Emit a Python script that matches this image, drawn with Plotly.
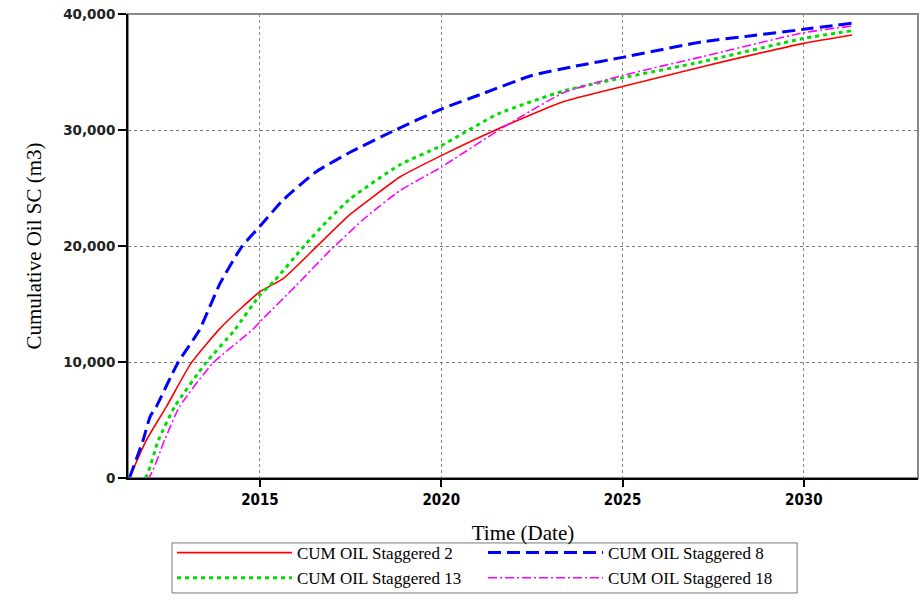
import plotly.graph_objects as go

# Decimal years and cumulative oil (m3)
s2_t = [2011.40, 2011.87, 2012.42, 2013.10, 2013.90, 2014.50, 2015.00, 2015.65, 2016.56, 2017.50,
        2018.10, 2018.86, 2020.00, 2021.56, 2023.40, 2025.00, 2027.20, 2030.00, 2031.33]
s2_v = [0, 3280, 6150, 9900, 12900, 14700, 16060, 17210, 19940, 22760,
        24200, 25950, 27790, 30090, 32470, 33750, 35460, 37470, 38190]

s8_t = [2011.40, 2011.78, 2011.97, 2012.14, 2012.73, 2013.33, 2013.90, 2014.50, 2015.00, 2015.65,
        2016.55, 2017.50, 2018.70, 2020.00, 2021.20, 2022.48, 2023.70, 2025.00, 2027.20, 2028.50,
        2030.00, 2031.33]
s8_v = [0, 3300, 5300, 6150, 9900, 12760, 16780, 19940, 21700, 24000,
        26400, 28100, 29950, 31800, 33200, 34680, 35500, 36260, 37600, 38100,
        38680, 39200]

s13_t = [2011.40, 2011.83, 2012.20, 2012.65, 2013.50, 2014.30, 2015.00, 2015.40, 2016.20, 2016.90,
         2017.50, 2018.86, 2020.00, 2021.56, 2023.40, 2025.00, 2027.20, 2030.00, 2031.33]
s13_v = [0, 0, 3280, 6150, 9900, 12760, 15780, 17000, 19940, 22300,
         24100, 27000, 28650, 31380, 33390, 34500, 35890, 37900, 38560]

s18_t = [2011.40, 2011.92, 2012.37, 2012.78, 2013.70, 2014.80, 2015.00, 2016.00, 2016.93, 2017.93,
         2018.86, 2020.00, 2021.56, 2022.48, 2023.40, 2025.00, 2027.20, 2030.00, 2031.33]
s18_v = [0, 0, 3280, 6150, 9900, 12800, 13470, 16600, 19600, 22500,
         24770, 26800, 29940, 31670, 33250, 34700, 36320, 38390, 38960]

names = ["CUM OIL Staggered 2", "CUM OIL Staggered 8", "CUM OIL Staggered 13", "CUM OIL Staggered 18"]
x_ticks = [2015, 2020, 2025, 2030]
y_ticks = [0, 10000, 20000, 30000, 40000]

fig = go.Figure()
fig.add_trace(go.Scatter(x=s2_t, y=s2_v, mode="lines", name=names[0],
                         line=dict(color="#ff0000", width=1.6, dash="solid", shape="spline", smoothing=0.5)))
fig.add_trace(go.Scatter(x=s8_t, y=s8_v, mode="lines", name=names[1],
                         line=dict(color="#0000ff", width=3, dash="13px,6px", shape="spline", smoothing=0.5)))
fig.add_trace(go.Scatter(x=s13_t, y=s13_v, mode="lines", name=names[2],
                         line=dict(color="#00dd00", width=3, dash="4px,4px", shape="spline", smoothing=0.5)))
fig.add_trace(go.Scatter(x=s18_t, y=s18_v, mode="lines", name=names[3],
                         line=dict(color="#ff00ff", width=1.6, dash="9px,3px,2px,3px", shape="spline", smoothing=0.5)))

serif = "Liberation Serif, Times New Roman, serif"

fig.update_layout(
    width=920, height=600,
    margin=dict(l=128, r=2, t=14, b=122, autoexpand=False),
    paper_bgcolor="white", plot_bgcolor="white",
    font=dict(family=serif, color="black"),
    showlegend=True,
    legend=dict(
        orientation="h", x=0.0557, xanchor="left", y=-0.123, yanchor="top",
        bgcolor="rgba(0,0,0,0)", borderwidth=0,
        font=dict(family=serif, size=17, color="black"),
        itemwidth=115, entrywidth=181, entrywidthmode="pixels",
        tracegroupgap=0,
    ),
    shapes=[
        dict(type="rect", xref="paper", yref="paper", x0=0, x1=1, y0=0, y1=1,
             line=dict(color="#888888", width=2), layer="below"),
        dict(type="rect", xref="paper", yref="paper", x0=0.0557, x1=0.847, y0=-0.2478, y1=-0.140,
             line=dict(color="#777777", width=1), layer="below"),
    ],
)

fig.update_xaxes(
    range=[2011.36, 2033.15], tickvals=x_ticks, ticktext=[str(t) for t in x_ticks],
    showgrid=True, gridcolor="#888888", griddash="dot", gridwidth=1,
    showline=True, linecolor="black", linewidth=2,
    ticks="outside", ticklen=7, tickwidth=2, tickcolor="black",
    tickfont=dict(family="Liberation Sans Narrow, DejaVu Sans Condensed, Arial Narrow, sans-serif",
                  size=15, weight="bold", color="black"),
    title=dict(text="Time (Date)", font=dict(family=serif, size=21), standoff=17),
    zeroline=False,
)
fig.update_yaxes(
    range=[0, 40000], tickvals=y_ticks, tickformat=",d",
    showgrid=True, gridcolor="#777777", griddash="dot", gridwidth=1,
    showline=True, linecolor="black", linewidth=2,
    ticks="outside", ticklen=8, tickwidth=2, tickcolor="black",
    tickfont=dict(family="DejaVu Sans, Verdana, sans-serif", size=13.5, weight="bold", color="#222222"),
    title=dict(text="Cumulative Oil SC (m3)", font=dict(family=serif, size=21), standoff=16),
    zeroline=False,
)

fig.write_html("out.html")
